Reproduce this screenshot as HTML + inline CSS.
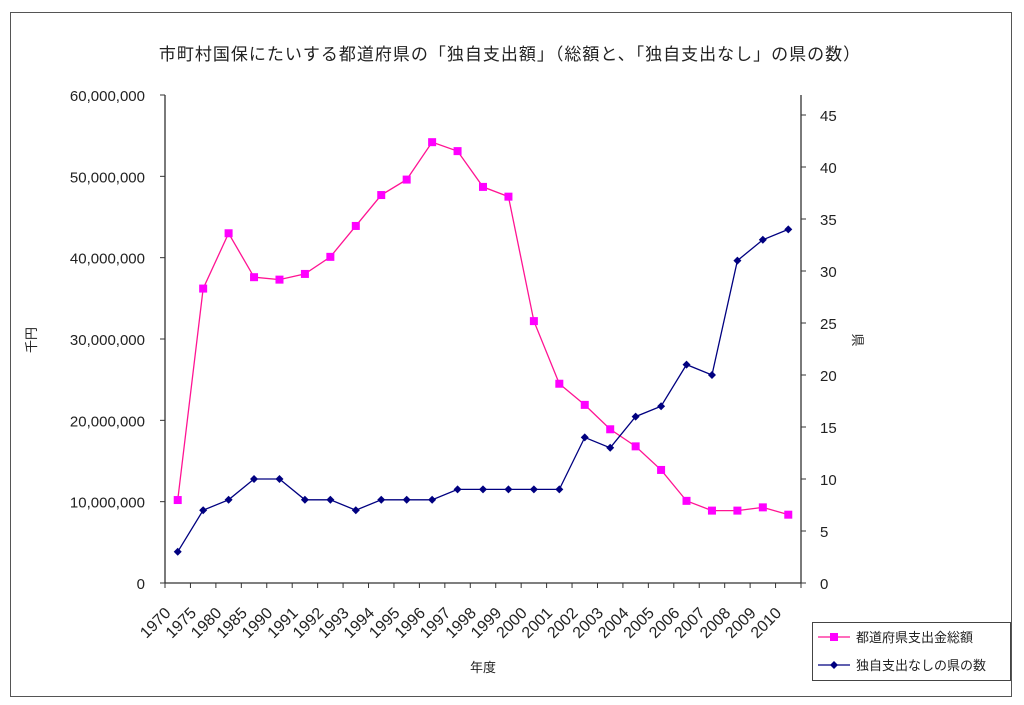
<!DOCTYPE html>
<html><head><meta charset="utf-8">
<style>
html,body{margin:0;padding:0;background:#fff;}
svg{display:block;font-family:"Liberation Sans","Noto Sans CJK JP",sans-serif;}
</style></head>
<body>
<svg id="chart" width="1024" height="705" viewBox="0 0 1024 705" xmlns="http://www.w3.org/2000/svg">
<rect x="10.5" y="12.5" width="1001" height="684" fill="#fff" stroke="#555" stroke-width="1"/>
<text x="510" y="60" font-size="17" letter-spacing="1" text-anchor="middle" fill="#222">市町村国保にたいする都道府県の「独自支出額」（総額と、「独自支出なし」の県の数）</text>
<g id="axes"></g>
<g id="series"></g>
<g>
<rect x="812.5" y="622.5" width="198" height="58" fill="#fff" stroke="#444"/>
<line x1="818" y1="637" x2="850" y2="637" stroke="#ff1493" stroke-width="1.3"/>
<rect x="830" y="633" width="8" height="8" fill="#ff00ff"/>
<text x="856" y="642" font-size="13" fill="#222">都道府県支出金総額</text>
<line x1="818" y1="665" x2="850" y2="665" stroke="#000080" stroke-width="1.3"/>
<polygon points="834,661 838,665 834,669 830,665" fill="#000080"/>
<text x="856" y="670" font-size="13" fill="#222">独自支出なしの県の数</text>
</g>
</svg>
<script>
const categories=["1970","1975","1980","1985","1990","1991","1992","1993","1994","1995","1996","1997","1998","1999","2000","2001","2002","2003","2004","2005","2006","2007","2008","2009","2010"];
const totalSpending=[10200000,36200000,43000000,37600000,37300000,38000000,40100000,43900000,47700000,49600000,54200000,53100000,48700000,47500000,32200000,24500000,21900000,18900000,16800000,13900000,10100000,8900000,8900000,9300000,8400000];
const noSpendingCount=[3,7,8,10,10,8,8,7,8,8,8,9,9,9,9,9,14,13,16,17,21,20,31,33,34];
const leftTicks=[0,10000000,20000000,30000000,40000000,50000000,60000000];
const rightTicks=[0,5,10,15,20,25,30,35,40,45];

const NS="http://www.w3.org/2000/svg";
const X0=165,X1=801,Y0=583,YT=95;
const step=(X1-X0)/categories.length;
const xPos=i=>X0+step*(i+0.5);
const yL=v=>Y0-(v/60000000)*(Y0-YT);
const yR=v=>Y0-(v/45)*(Y0-115);
function mk(tag,attrs,parent){const e=document.createElementNS(NS,tag);for(const k in attrs)e.setAttribute(k,attrs[k]);parent.appendChild(e);return e;}
const ax=document.getElementById('axes'),sr=document.getElementById('series');

let e=mk('line',{x1:X0,y1:YT,x2:X0,y2:Y0,stroke:'#333','stroke-width':1.3},ax);


e=mk('line',{x1:X1,y1:YT,x2:X1,y2:Y0,stroke:'#333','stroke-width':1.3},ax);


e=mk('line',{x1:X0,y1:Y0,x2:X1,y2:Y0,stroke:'#333','stroke-width':1.3},ax);



leftTicks.forEach(v=>{const y=yL(v);
 mk('line',{x1:X0-5,y1:y,x2:X0,y2:y,stroke:'#333'},ax);
 const t=mk('text',{x:X0-20,y:y+6,'font-size':15,'text-anchor':'end',fill:'#222'},ax);
 t.textContent=v.toLocaleString('en-US');
 
 
});
rightTicks.forEach(v=>{const y=yR(v);
 mk('line',{x1:X1,y1:y,x2:X1+5,y2:y,stroke:'#333'},ax);
 const t=mk('text',{x:X1+19,y:y+6,'font-size':15,fill:'#222'},ax);
 t.textContent=v;
 
 
});
for(let i=0;i<=categories.length;i++){const x=X0+step*i;mk('line',{x1:x,y1:Y0,x2:x,y2:Y0+5,stroke:'#333'},ax);}
categories.forEach((c,i)=>{const x=xPos(i)-6,y=614;
 const t=mk('text',{x:x,y:y,'font-size':16,'text-anchor':'end',fill:'#222',transform:`rotate(-45 ${x} ${y})`},ax);
 t.textContent=c;
 
 
});
let t=mk('text',{x:483,y:672,'font-size':13,'text-anchor':'middle',fill:'#222'},ax);t.textContent='年度';


t=mk('text',{x:36,y:340,'font-size':13,'text-anchor':'middle',fill:'#222',transform:'rotate(-90 36 340)'},ax);t.textContent='千円';


t=mk('text',{x:853,y:340,'font-size':13,'text-anchor':'middle',fill:'#222',transform:'rotate(90 853 340)'},ax);t.textContent='県';



let p=mk('polyline',{points:totalSpending.map((v,i)=>xPos(i)+','+yL(v)).join(' '),fill:'none',stroke:'#ff1493','stroke-width':1.3},sr);


totalSpending.forEach((v,i)=>{const m=mk('rect',{x:xPos(i)-4,y:yL(v)-4,width:8,height:8,fill:'#ff00ff'},sr);
 
 });
p=mk('polyline',{points:noSpendingCount.map((v,i)=>xPos(i)+','+yR(v)).join(' '),fill:'none',stroke:'#000080','stroke-width':1.3},sr);


noSpendingCount.forEach((v,i)=>{const x=xPos(i),y=yR(v);
 const m=mk('polygon',{points:`${x},${y-4} ${x+4},${y} ${x},${y+4} ${x-4},${y}`,fill:'#000080'},sr);
 
 });
</script>
</body></html>
